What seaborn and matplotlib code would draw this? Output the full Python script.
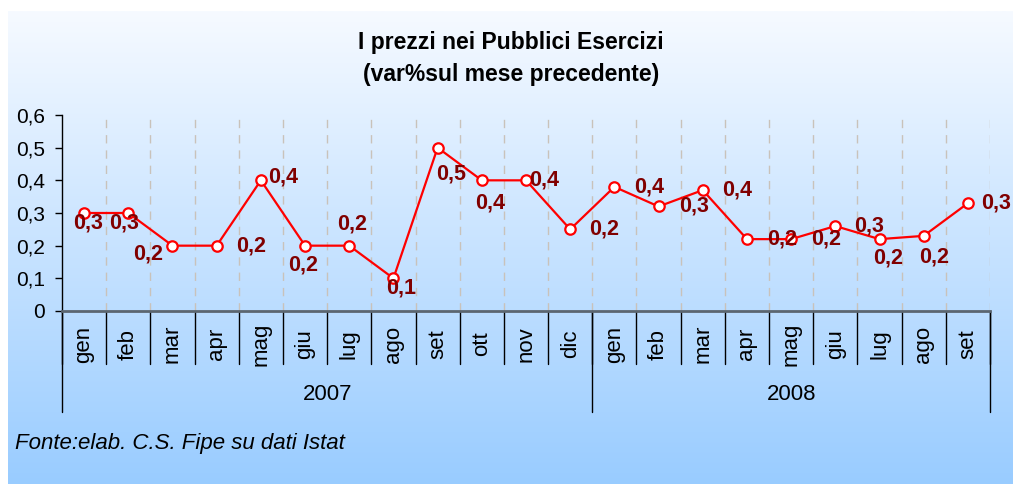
import numpy as np
import pandas as pd
import seaborn as sns
import matplotlib.pyplot as plt

# Dati
mesi = ["gen", "feb", "mar", "apr", "mag", "giu", "lug", "ago", "set", "ott", "nov", "dic",
        "gen", "feb", "mar", "apr", "mag", "giu", "lug", "ago", "set"]
anni = ["2007", "2008"]
mesi_per_anno = [12, 9]
var_pct = [0.30, 0.30, 0.20, 0.20, 0.40, 0.20, 0.20, 0.10, 0.50, 0.40, 0.40, 0.25,
           0.38, 0.32, 0.37, 0.22, 0.22, 0.26, 0.22, 0.23, 0.33]
y_ticks = [0, 0.1, 0.2, 0.3, 0.4, 0.5, 0.6]

# Spostamento delle etichette (pixel: dx, dy verso il basso)
offset_etichette = [(4, 10), (-4, 10), (-24, 8), (34, 0), (22, -3), (-2, 19), (3, -22),
                    (8, 10), (14, 26), (8, 23), (18, 0), (34, 0), (35, 0), (35, 0),
                    (34, 0), (35, 0), (35, 0), (34, 0), (9, 19), (10, 21), (28, 0)]

df = pd.DataFrame({"pos": np.arange(len(mesi)), "var": var_pct})

sns.set_style("white")
plt.rcParams["font.family"] = ["Liberation Sans", "DejaVu Sans"]
plt.rcParams["text.color"] = "black"
plt.rcParams["ytick.color"] = "black"

W, H = 1013, 484
fig = plt.figure(figsize=(W / 100, H / 100), dpi=100, facecolor="white")

# Sfondo sfumato
bg = fig.add_axes([8 / W, 0, 1 - 8 / W, (H - 11) / H], zorder=0)
top = np.array([246, 250, 255]) / 255
bot = np.array([153, 204, 255]) / 255
t = np.linspace(0, 1, 256)[:, None]
grad = top[None, :] * (1 - t) + bot[None, :] * t
bg.imshow(grad[:, None, :], aspect="auto", extent=[0, 1, 0, 1])
bg.set_axis_off()

ax = fig.add_axes([62 / W, (H - 311) / H, (990 - 62) / W, (311 - 115) / H], zorder=1)
ax.set_facecolor("none")

# Griglia verticale tratteggiata
for xb in np.arange(0.5, len(mesi), 1):
    ax.axvline(xb, color="#c9c2ba", lw=1, ls=(0, (6, 5)), zorder=0)

sns.lineplot(data=df, x="pos", y="var", ax=ax, color="#ff0000", lw=1.6,
             marker="o", markersize=7.5, markerfacecolor="white",
             markeredgecolor="#ff0000", markeredgewidth=1.6, zorder=3)

for i, v in enumerate(var_pct):
    dx, dy = offset_etichette[i]
    ax.annotate(f"{v:.1f}".replace(".", ","), (i, v), xytext=(dx, -dy),
                textcoords="offset pixels", ha="center", va="center",
                fontsize=15.5, fontweight="bold", color="#800000", zorder=4)

ax.set_xlim(-0.5, len(mesi) - 0.5)
ax.set_ylim(0, 0.6)
ax.set_yticks(y_ticks)
ax.set_yticklabels([("0" if v == 0 else f"{v:.1f}".replace(".", ",")) for v in y_ticks],
                   fontsize=15, color="black")
ax.tick_params(axis="y", length=5, width=1, color="black", pad=7, direction="out", left=True)
ax.set_xticks([])
ax.set_xlabel("")
ax.set_ylabel("")
for s in ["top", "right"]:
    ax.spines[s].set_visible(False)
ax.spines["left"].set_color("black")
ax.spines["left"].set_linewidth(1)
ax.spines["bottom"].set_color("#5b6670")
ax.spines["bottom"].set_linewidth(2)

# Asse delle categorie a due livelli
trans = ax.get_xaxis_transform()
hax = 311 - 115
for xb in np.arange(-0.5, len(mesi), 1):
    ax.plot([xb, xb], [0, -53 / hax], transform=trans, color="black", lw=1, clip_on=False)
for i, m in enumerate(mesi):
    ax.text(i, -33 / hax, m, transform=trans, rotation=90, ha="center", va="center",
            fontsize=16, color="black")

start = 0
for anno, n in zip(anni, mesi_per_anno):
    ax.plot([start - 0.5, start - 0.5], [0, -101 / hax], transform=trans,
            color="black", lw=1, clip_on=False)
    ax.text(start + (n - 1) / 2, -84 / hax, anno, transform=trans, ha="center",
            va="center", fontsize=16, color="black")
    start += n
ax.plot([start - 0.5, start - 0.5], [0, -101 / hax], transform=trans,
        color="black", lw=1, clip_on=False)

# Titolo e fonte
fig.text(511 / W, 1 - 42 / H, "I prezzi nei Pubblici Esercizi", ha="center", va="center",
         fontsize=16.5, fontweight="bold", zorder=5)
fig.text(511 / W, 1 - 75 / H, "(var%sul mese precedente)", ha="center", va="center",
         fontsize=16.5, fontweight="bold", zorder=5)
fig.text(15 / W, 1 - 443 / H, "Fonte:elab. C.S. Fipe su dati Istat", ha="left", va="center",
         fontsize=16, fontstyle="italic", zorder=5)

plt.savefig("out.png", dpi=100)
plt.close()
